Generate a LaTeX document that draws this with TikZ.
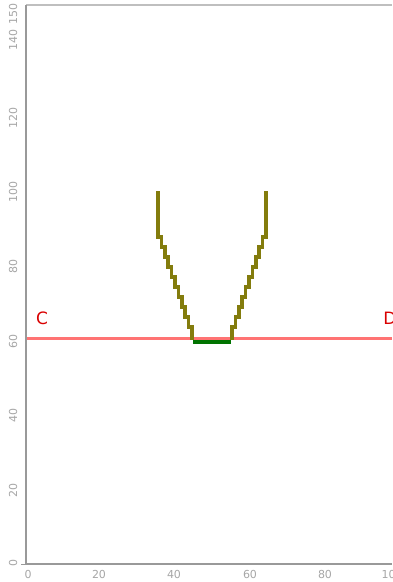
\documentclass[tikz,border=0pt]{standalone}
\usepackage{fontspec}
\setmainfont{DejaVu Sans}
\begin{document}
\begin{tikzpicture}[x=1pt,y=-1pt,
  axisline/.style={draw=gray!80,line width=1.3pt},
  topline/.style={draw=gray!50,line width=2pt},
  ticklab/.style={text=gray!70,font=\fontsize{11}{11}\selectfont,inner sep=0pt},
  wall/.style={draw=olive!90!black,line width=3.6pt,line join=miter},
  floor/.style={draw=green!45!black,line width=3.4pt},
  refline/.style={draw=red!55!white,line width=2.4pt},
  ptlab/.style={text=red!85!black,font=\fontsize{17}{17}\selectfont,inner sep=0pt}]
\useasboundingbox (0,0) rectangle (392,582);
% axes
\draw[topline] (26,5) -- (392,5);
\draw[axisline] (26,5) -- (26,564) -- (392,564);
\draw[axisline,line width=0.8pt] (21,564) -- (26,564);
% y tick labels
\foreach \v/\yy in {0/563,20/490,40/415,60/341,80/266,100/192,120/118,140/40,150/14}
  \node[ticklab,rotate=90] (y\v) at (13,\yy) {\v};
% x tick labels
\foreach \v/\xx in {0/28,20/99,40/174,60/250,80/325,100/392}
  \node[ticklab] (x\v) at (\xx,574) {\v};
% reference line C-D
\draw[refline] (27,338.5) -- (392,338.5);
\node[ptlab] (C) at (42,318) {C};
\node[ptlab] (D) at (390,318) {D};
% left wall
\draw[wall] (158,191) -- (158,237)
  \foreach \i in {1,...,10} { -- ++(3.4,0) -- ++(0,10) } -- ++(0,3);
% right wall
\draw[wall] (266,191) -- (266,237)
  \foreach \i in {1,...,10} { -- ++(-3.4,0) -- ++(0,10) } -- ++(0,3);
% floor
\draw[floor] (193,342) -- (231,342);
\end{tikzpicture}
\end{document}
